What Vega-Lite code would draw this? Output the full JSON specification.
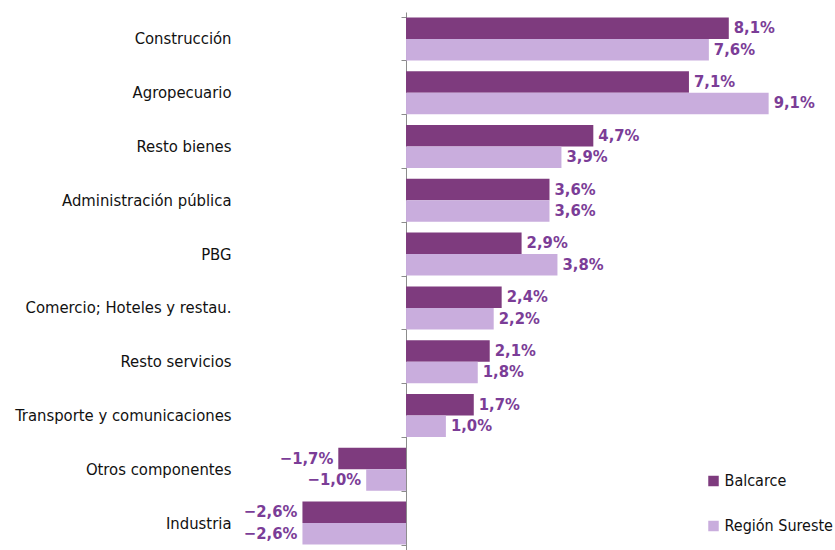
{
  "$schema": "https://vega.github.io/schema/vega-lite/v6.json",
  "autosize": "none",
  "width": 518,
  "height": 538,
  "padding": {"left": 286.5, "top": 12, "right": 30, "bottom": 0},
  "config": {
    "font": "DejaVu Sans Condensed, Roboto",
    "view": {"stroke": null},
    "locale": {"number": {"decimal": ",", "thousands": ".", "grouping": [3], "currency": ["$", ""]}}
  },
  "data": {
    "values": [
      {"sector": "Construcción", "serie": "Balcarce", "v": 8.1},
      {"sector": "Construcción", "serie": "Región Sureste", "v": 7.6},
      {"sector": "Agropecuario", "serie": "Balcarce", "v": 7.1},
      {"sector": "Agropecuario", "serie": "Región Sureste", "v": 9.1},
      {"sector": "Resto bienes", "serie": "Balcarce", "v": 4.7},
      {"sector": "Resto bienes", "serie": "Región Sureste", "v": 3.9},
      {"sector": "Administración pública", "serie": "Balcarce", "v": 3.6},
      {"sector": "Administración pública", "serie": "Región Sureste", "v": 3.6},
      {"sector": "PBG", "serie": "Balcarce", "v": 2.9},
      {"sector": "PBG", "serie": "Región Sureste", "v": 3.8},
      {"sector": "Comercio; Hoteles y restau.", "serie": "Balcarce", "v": 2.4},
      {"sector": "Comercio; Hoteles y restau.", "serie": "Región Sureste", "v": 2.2},
      {"sector": "Resto servicios", "serie": "Balcarce", "v": 2.1},
      {"sector": "Resto servicios", "serie": "Región Sureste", "v": 1.8},
      {"sector": "Transporte y comunicaciones", "serie": "Balcarce", "v": 1.7},
      {"sector": "Transporte y comunicaciones", "serie": "Región Sureste", "v": 1.0},
      {"sector": "Otros componentes", "serie": "Balcarce", "v": -1.7},
      {"sector": "Otros componentes", "serie": "Región Sureste", "v": -1.0},
      {"sector": "Industria", "serie": "Balcarce", "v": -2.6},
      {"sector": "Industria", "serie": "Región Sureste", "v": -2.6}
    ]
  },
  "transform": [{"calculate": "format(datum.v, '.1f') + '%'", "as": "lbl"}],
  "encoding": {
    "y": {
      "field": "sector", "type": "nominal",
      "sort": ["Construcción", "Agropecuario", "Resto bienes", "Administración pública", "PBG", "Comercio; Hoteles y restau.", "Resto servicios", "Transporte y comunicaciones", "Otros componentes", "Industria"],
      "scale": {"paddingInner": 0.2, "paddingOuter": 0.1},
      "axis": {
        "title": null, "offset": -119.5, "tickBand": "extent", "tickSize": 5,
        "tickColor": "#8c8c8c", "domainColor": "#8c8c8c", "labelPadding": 170,
        "labelFontSize": 16.5, "labelColor": "#111111", "labelLimit": 400, "grid": false
      }
    },
    "yOffset": {"field": "serie", "type": "nominal", "sort": ["Balcarce", "Región Sureste"]},
    "x": {"field": "v", "type": "quantitative", "scale": {"domain": [-3, 10], "nice": false}, "axis": null}
  },
  "layer": [
    {
      "mark": {"type": "bar"},
      "encoding": {
        "color": {
          "field": "serie", "type": "nominal",
          "scale": {"domain": ["Balcarce", "Región Sureste"], "range": ["#7e3b7e", "#c9addd"]},
          "legend": {
            "title": null, "orient": "none", "legendX": 419, "legendY": 461,
            "symbolType": "square", "symbolSize": 110, "symbolStrokeWidth": 0, "symbolOpacity": 1,
            "labelFontSize": 16, "labelColor": "#111111", "rowPadding": 29, "labelOffset": 3, "labelLimit": 300
          }
        }
      }
    },
    {
      "transform": [{"filter": "datum.v >= 0"}],
      "mark": {"type": "text", "align": "left", "baseline": "middle", "dx": 5, "fontSize": 16.5, "fontWeight": 600, "color": "#7b3d97"},
      "encoding": {"text": {"field": "lbl"}}
    },
    {
      "transform": [{"filter": "datum.v < 0"}],
      "mark": {"type": "text", "align": "right", "baseline": "middle", "dx": -5, "fontSize": 16.5, "fontWeight": 600, "color": "#7b3d97"},
      "encoding": {"text": {"field": "lbl"}}
    }
  ]
}
